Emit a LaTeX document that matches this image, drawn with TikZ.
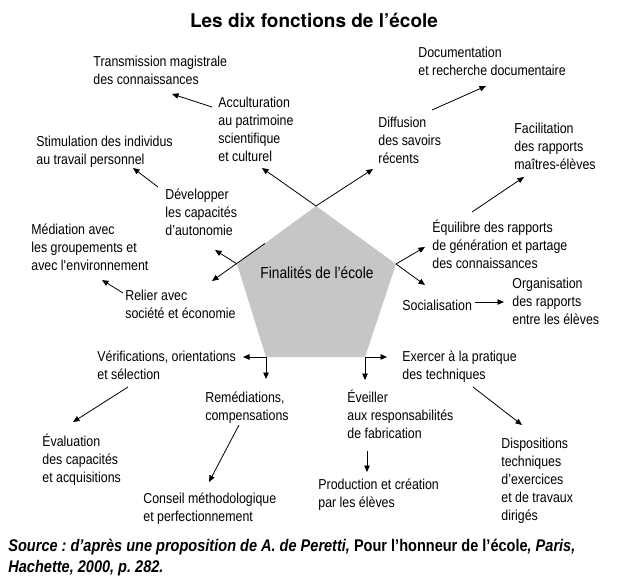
\documentclass[tikz,border=0pt]{standalone}
\usepackage{fontspec}
\setmainfont{TeX Gyre Heros}
\newfontfamily\cond{Liberation Sans}[FakeStretch=0.86]
\usetikzlibrary{arrows.meta,calc}
\frenchspacing

\tikzset{
    lbl/.style={font=\cond\fontsize{14.4}{18}\selectfont, align=left, anchor=north west, inner sep=0pt, execute at begin node=\strut},
    >={Triangle[length=6.5pt,width=5.5pt]}
}

\begin{document}
\begin{tikzpicture}[x=1pt, y=-1pt, line width=0.8pt]
            \useasboundingbox (0,0) rectangle (640,583);

            \node[font=\bfseries\fontsize{19}{21}\selectfont] (titre) at (314,20) {Les dix fonctions de l’école};

            \coordinate (p1) at (316,206);
            \coordinate (p2) at (237,264);
            \coordinate (p3) at (396,264);
            \coordinate (p4) at (266,357);
            \coordinate (p5) at (365,357);
            \coordinate (p12) at ($(p1)!0.646!(p2)$);
            \fill[gray!45] (p1) -- (p3) -- (p5) -- (p4) -- (p2) -- cycle;
            \node[font=\cond\fontsize{16}{18}\selectfont] (centre) at (317,273) {Finalités de l’école};

            \node[lbl] (trans) at (93,56) {Transmission magistrale\\des connaissances};
            \node[lbl] (accult) at (218,97) {Acculturation\\au patrimoine\\scientifique\\et culturel};
            \node[lbl] (stim) at (36,136) {Stimulation des individus\\au travail personnel};
            \node[lbl] (devel) at (165,188) {Développer\\les capacités\\d’autonomie};
            \node[lbl] (media) at (31,223) {Médiation avec\\les groupements et\\avec l{\textquotesingle}environnement};
            \node[lbl] (relier) at (125,290) {Relier avec\\société et économie};
            \node[lbl] (verif) at (97,350) {Vérifications, orientations\\et sélection};
            \node[lbl] (remed) at (205,391) {Remédiations,\\compensations};
            \node[lbl] (evalu) at (42,434) {Évaluation\\des capacités\\et acquisitions};
            \node[lbl] (conseil) at (143,492) {Conseil méthodologique\\et perfectionnement};

            \node[lbl] (docu) at (418,47) {Documentation\\et recherche documentaire};
            \node[lbl] (diffu) at (378,117) {Diffusion\\des savoirs\\récents};
            \node[lbl] (facil) at (514,123) {Facilitation\\des rapports\\maîtres-élèves};
            \node[lbl] (equil) at (432,220) {Équilibre des rapports\\de génération et partage\\des connaissances};
            \node[lbl] (social) at (402,297) {Socialisation};
            \node[lbl] (organ) at (512,278) {Organisation\\des rapports\\entre les élèves};
            \node[lbl] (exerc) at (402,350) {Exercer à la pratique\\des techniques};
            \node[lbl] (eveil) at (347,390) {Éveiller\\aux responsabilités\\de fabrication};
            \node[lbl] (produc) at (318,478) {Production et création\\par les élèves};
            \node[lbl] (dispo) at (501,438) {Dispositions\\techniques\\d’exercices\\et de travaux\\dirigés};

            \draw [->] (p1) -- ([shift={(44,71)}]accult.north west);
            \draw [->] (p1) -- ([shift={(-5,52)}]diffu.north west);
            \draw [->] (p2) -- ([shift={(50,62)}]devel.north west);
            \draw [->] (p12) -- ([shift={(87,-9)}]relier.north west);
            \draw [->] (p3) -- ([shift={(-7,27)}]equil.north west);
            \draw [->] (p3) -- ([shift={(23,-12)}]social.north west);
            \draw [->] (p4) -- ([shift={(146,7)}]verif.north west);
            \draw [->] (p4) -- ([shift={(61,-12)}]remed.north west);
            \draw [->] (p5) -- ([shift={(-15,7)}]exerc.north west);
            \draw [->] (p5) -- ([shift={(18,-10)}]eveil.north west);

            \draw [->] ([shift={(-6,10)}]accult.north west) -- ([shift={(79,38)}]trans.north west);
            \draw [->] ([shift={(-7,-1)}]devel.north west) -- ([shift={(97,32)}]stim.north west);
            \draw [->] ([shift={(-2,3)}]relier.north west) -- ([shift={(71,57)}]media.north west);
            \draw [->] ([shift={(54,-7)}]diffu.north west) -- ([shift={(68,39)}]docu.north west);
            \draw [->] ([shift={(40,-8)}]equil.north west) -- ([shift={(10,54)}]facil.north west);
            \draw [->] ([shift={(73,5)}]social.north west) -- ([shift={(-8,24)}]organ.north west);
            \draw [->] ([shift={(71,37)}]exerc.north west) -- ([shift={(21,-13)}]dispo.north west);
            \draw [->] ([shift={(20,61)}]eveil.north west) -- ([shift={(49,-6)}]produc.north west);
            \draw [->] ([shift={(31,37)}]verif.north west) -- ([shift={(31,-12)}]evalu.north west);
            \draw [->] ([shift={(34,34)}]remed.north west) -- ([shift={(66,-10)}]conseil.north west);

            \node[anchor=north west, inner sep=0pt, align=left, font=\cond\bfseries\itshape\fontsize{16.9}{21}\selectfont] (source) at (8,539) {Source : d’après une proposition de A. de Peretti, {\upshape Pour l’honneur de l’école}, Paris,\\Hachette, 2000, p. 282.};
    \end{tikzpicture}
\end{document}
